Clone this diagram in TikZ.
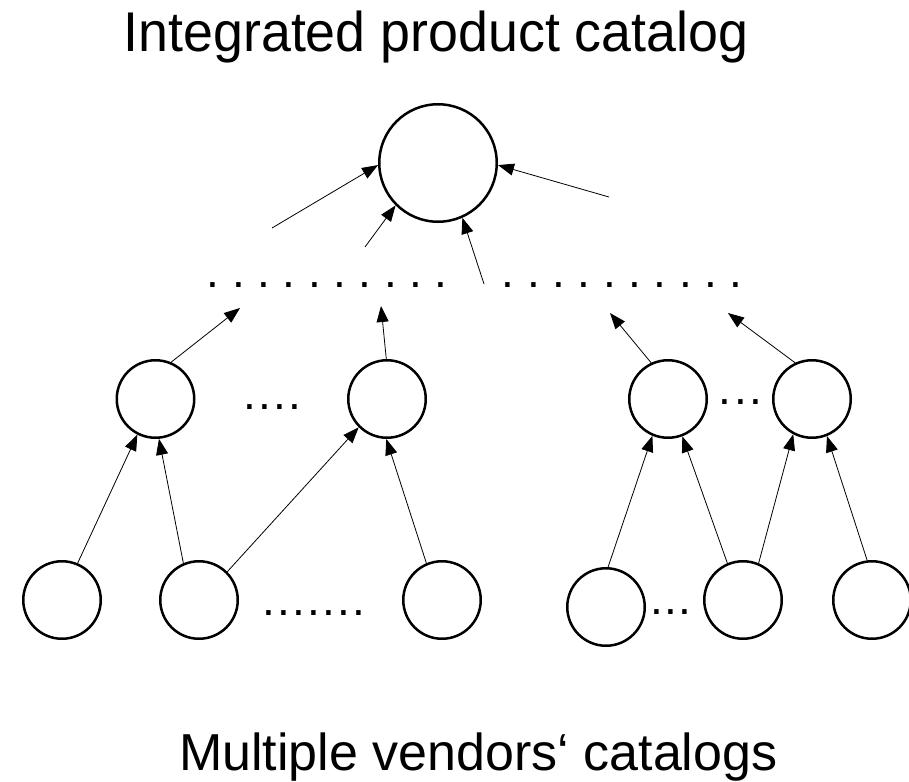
\documentclass[tikz,border=0pt]{standalone}
\usepackage{fontspec}
\setmainfont{Liberation Sans}
\newfontfamily\titlefont[FakeStretch=0.96]{Liberation Sans}
\usetikzlibrary{arrows.meta}
\newcommand\pd[1]{\makebox[#1]{.}}
\begin{document}
\begin{tikzpicture}[x=1pt,y=-1pt,
  vc/.style={circle,draw,line width=2.5pt,minimum size=77.5pt,inner sep=0pt},
  tc/.style={circle,draw,line width=2.5pt,minimum size=117.5pt,inner sep=0pt},
  arr/.style={line width=0.8pt,-{Triangle[length=16pt,width=12pt]}},
  lbl/.style={inner sep=0pt,anchor=base,font=\titlefont\fontsize{56}{60}\selectfont},
  sublbl/.style={inner sep=0pt,anchor=base west,font=\fontsize{52}{56}\selectfont},
  dotsrow/.style={inner sep=0pt,anchor=base west,font=\fontsize{46}{50}\selectfont}]
\useasboundingbox (0,0) rectangle (909,781);
% circles
\node[tc] (T) at (438,163) {};
\node[vc] (M1) at (155.5,399) {};
\node[vc] (M2) at (387,399) {};
\node[vc] (M3) at (668,399) {};
\node[vc] (M4) at (812,399) {};
\node[vc] (B1) at (62,600) {};
\node[vc] (B2) at (199,600) {};
\node[vc] (B3) at (442,600) {};
\node[vc] (B4) at (606,607) {};
\node[vc] (B5) at (743,600) {};
\node[vc] (B6) at (872,600) {};
% free ends
\coordinate (a0) at (272,228);
\coordinate (b0) at (365,247);
\coordinate (c0) at (484,284);
\coordinate (d0) at (609,197);
\coordinate (m1t) at (240,308);
\coordinate (m2t) at (381,306);
\coordinate (m3t) at (610,313);
\coordinate (m4t) at (728,313);
% arrows to top
\draw[arr] (a0) -- (T.182);
\draw[arr] (b0) -- (T.225);
\draw[arr] (c0) -- (T.294);
\draw[arr] (d0) -- (T.-2);
% arrows from middle row
\draw[arr] (M1.67) -- (m1t);
\draw[arr] (M2.91) -- (m2t);
\draw[arr] (M3.115) -- (m3t);
\draw[arr] (M4.115) -- (m4t);
% arrows from bottom row
\draw[arr] (B1.67) -- (M1.243);
\draw[arr] (B2.113) -- (M1.275);
\draw[arr] (B2.45) -- (M2.225);
\draw[arr] (B3.113) -- (M2.269);
\draw[arr] (B4.87) -- (M3.247);
\draw[arr] (B5.113) -- (M3.291);
\draw[arr] (B5.67) -- (M4.242);
\draw[arr] (B6.97) -- (M4.292);
% dot rows
\node[dotsrow] (dl) at (200.3,287.4) {\pd{25.35pt}\pd{25.35pt}\pd{25.35pt}\pd{25.35pt}\pd{25.35pt}\pd{25.35pt}\pd{25.35pt}\pd{25.35pt}\pd{25.35pt}\pd{25.35pt}};
\node[dotsrow] (dr) at (495.3,287.4) {\pd{25.35pt}\pd{25.35pt}\pd{25.35pt}\pd{25.35pt}\pd{25.35pt}\pd{25.35pt}\pd{25.35pt}\pd{25.35pt}\pd{25.35pt}\pd{25.35pt}};
\node[dotsrow] (dm1) at (242.5,409.3) {\pd{15pt}\pd{15pt}\pd{15pt}\pd{15pt}};
\node[dotsrow] (dm2) at (717.25,404.3) {\pd{15.5pt}\pd{15.5pt}\pd{15.5pt}};
\node[dotsrow] (db1) at (261.5,615.3) {\pd{15pt}\pd{15pt}\pd{15pt}\pd{15pt}\pd{15pt}\pd{15pt}\pd{15pt}};
\node[dotsrow] (db2) at (650,614.3) {\pd{14pt}\pd{14pt}\pd{14pt}};
% labels
\node[lbl] (title) at (436,52) {Integrated product catalog};
\node[sublbl] (sub) at (179,770) {Multiple vendors‘ catalogs};
\end{tikzpicture}
\end{document}
